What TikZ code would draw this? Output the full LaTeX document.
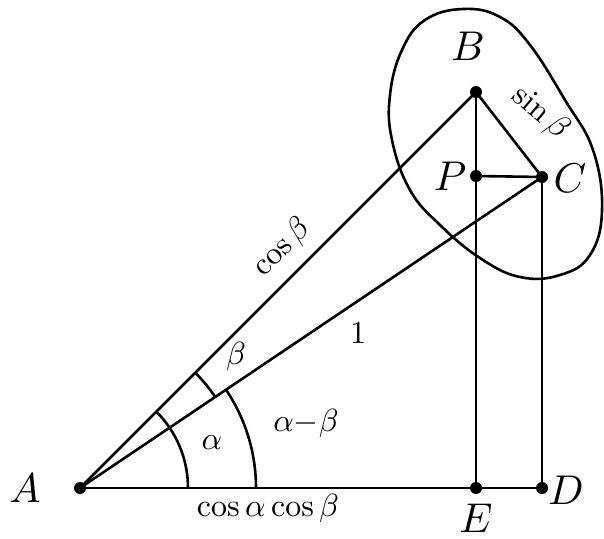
\documentclass[tikz,border=0pt]{standalone}
\usepackage{amsmath}
\usetikzlibrary{calc}

\begin{document}
\begin{tikzpicture}[x=1pt, y=-1pt, line width=2.6pt,
		every node/.style={scale=3.2},
		ptlabel/.style={scale=1.3},
		dotmark/.style={fill=black}]
	\useasboundingbox (0,0) rectangle (604,538);
	% points
	\coordinate (A) at (80,488);
	\coordinate (B) at (476,92);
	\coordinate (P) at (476,176);
	\coordinate (C) at (542,177);
	\coordinate (E) at (476,488);
	\coordinate (D) at (542,488);
	% triangle and projections
	\draw (A) -- (B);
	\draw (A) -- (C);
	\draw (A) -- (D);
	\draw (B) -- (C);
	\draw (P) -- (C);
	\draw (B) -- (E);
	\draw (C) -- (D);
	% right angle at B
	\draw ($(B)!30!(A)$) -- ($(B)!30!(A)+(B)!20!(C)-(B)$) -- ($(B)!20!(C)$);
	% angle arcs
	\draw ($(A)+(108,0)$) arc[start angle=0, end angle=-45, radius=108];
	\draw ($(A)+(176,0)$) arc[start angle=0, end angle=-34, radius=176];
	\draw ($(A)+(-34:163)$) arc[start angle=-34, end angle=-45, radius=163];
	% the blob round B, P and C
	\draw plot[smooth cycle, tension=0.7] coordinates {(463,9) (500,17) (530,45) (565,100) (593,150) (602,210) (590,255) (560,275) (520,277) (480,258) (440,225) (410,190) (392,140) (390,95) (402,50) (425,20)};
	% dots
	\foreach \p in {A,B,P,C,E,D}
		\fill[dotmark] (\p) circle (6);
	% labels
	\node[ptlabel] (lA) at (25,488) {$A$};
	\node[ptlabel] (lB) at (468,46) {$B$};
	\node[ptlabel] (lP) at (450,176) {$P$};
	\node[ptlabel] (lC) at (570,178) {$C$};
	\node[ptlabel] (lD) at (566,490) {$D$};
	\node[ptlabel] (lE) at (476,518) {$E$};
	\node[rotate=-40] (lsin) at (540,113) {$\sin\beta$};
	\node[rotate=45] (lcos) at (282,248) {$\cos\beta$};
	\node (lone) at (358,333) {$1$};
	\node (lbeta) at (236,356) {$\beta$};
	\node (lalpha) at (212,443) {$\alpha$};
	\node (lamb) at (306,423) {$\alpha{-}\beta$};
	\node (lbase) at (268,508) {$\cos\alpha\cos\beta$};
\end{tikzpicture}
\end{document}
